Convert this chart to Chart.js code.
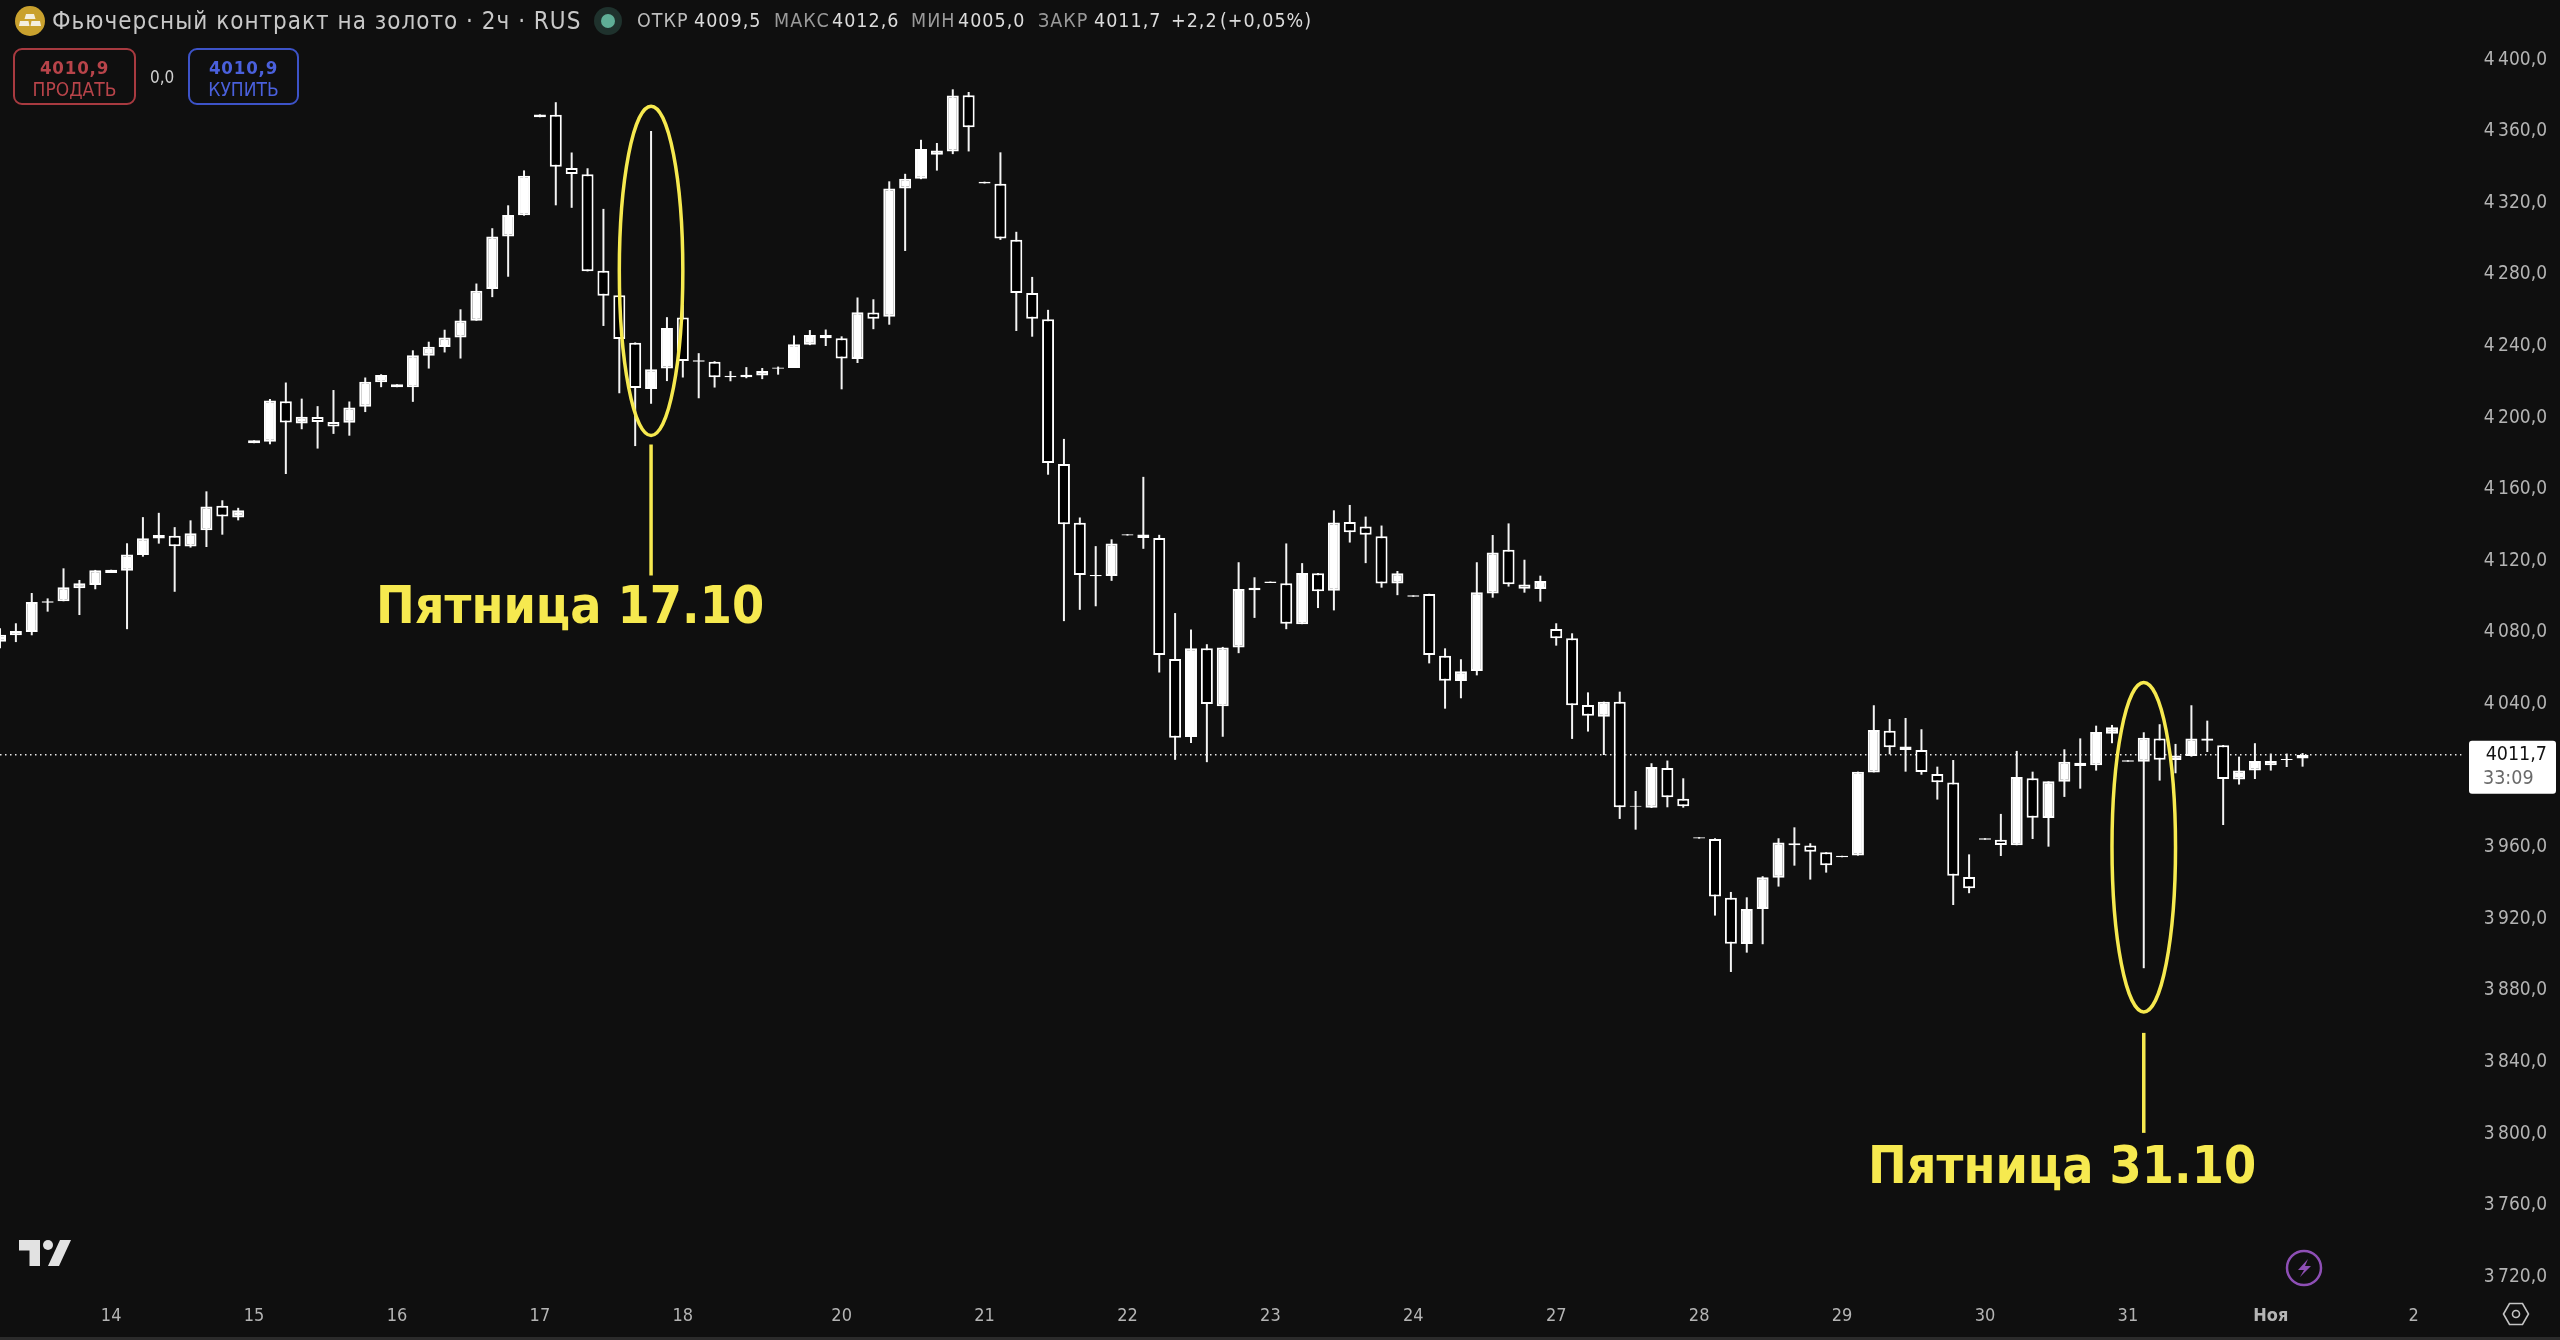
<!DOCTYPE html>
<html lang="ru">
<head>
<meta charset="utf-8">
<title>Фьючерсный контракт на золото</title>
<script src="https://cdn.jsdelivr.net/npm/chart.js@4/dist/chart.umd.min.js"></script>
<style>
  html, body { margin: 0; padding: 0; background: #0f0f0f; overflow: hidden; }
  #wrap { position: relative; width: 2560px; height: 1340px; font-family: "DejaVu Sans Condensed", "DejaVu Sans", sans-serif; }
  canvas { position: absolute; left: 0; top: 0; }
  .t { position: absolute; white-space: nowrap; line-height: 1; }
  .hd { top: 11px; font-size: 19.5px; letter-spacing: 1px; color: #bdbdbd; }
  .val { color: #dcdcdc; }
  .btn { position: absolute; top: 48px; height: 53px; border: 2px solid; border-radius: 9px; text-align: center; box-sizing: content-box; }
  .btn b { display: block; font-size: 18.5px; font-weight: 700; margin-top: 8px; letter-spacing: 0.8px; line-height: 20px; }
  .btn span { display: block; font-size: 19px; line-height: 22px; }
  svg { position: absolute; }
</style>
</head>
<body>
<div id="wrap">
  <canvas id="chart" width="2560" height="1340"></canvas>

  <svg style="left:15px;top:6px" width="30" height="30" viewBox="0 0 30 30">
    <circle cx="15" cy="15" r="15" fill="#c9a12e"/>
    <path d="M11 8h8l1.5 5h-11z M5 15h8.5l1 5H4z M16.5 15H25l1 5H15.5z" fill="#f4efe0"/>
  </svg>
  <div class="t" style="left:52px;top:9px;font-size:24px;letter-spacing:1px;color:#c8c8c8">Фьючерсный контракт на золото · 2ч · RUS</div>
  <svg style="left:594px;top:7px" width="28" height="28" viewBox="0 0 28 28">
    <circle cx="14" cy="14" r="14" fill="#1f322d"/>
    <circle cx="14" cy="14" r="7" fill="#5fae96"/>
  </svg>

  <div class="t hd" style="left:637px">ОТКР</div><div class="t hd val" style="left:694px">4009,5</div>
  <div class="t hd" style="left:774px;color:#9a9a9a">МАКС</div><div class="t hd val" style="left:832px">4012,6</div>
  <div class="t hd" style="left:911px;color:#9a9a9a">МИН</div><div class="t hd val" style="left:958px">4005,0</div>
  <div class="t hd" style="left:1038px;color:#9a9a9a">ЗАКР</div><div class="t hd val" style="left:1094px">4011,7</div>
  <div class="t hd val" style="left:1171px">+2,2</div><div class="t hd val" style="left:1220px">(+0,05%)</div>

  <div class="btn" style="left:13px;width:119px;border-color:#a83a40;color:#b8444a"><b>4010,9</b><span>ПРОДАТЬ</span></div>
  <div class="t" style="left:150px;top:69px;font-size:17px;color:#d0d0d0">0,0</div>
  <div class="btn" style="left:188px;width:107px;border-color:#3d53c8;color:#4a60dc"><b>4010,9</b><span>КУПИТЬ</span></div>

  <svg style="left:19px;top:1240px" width="52" height="26" viewBox="0 0 52 26">
    <path d="M0 0h21v26H10.500V10.500H0z" fill="#e2e2e2"/>
    <circle cx="29" cy="5" r="5" fill="#e2e2e2"/>
    <path d="M41 0h11L40 26H29z" fill="#e2e2e2"/>
  </svg>

  <svg style="left:2285px;top:1249px" width="38" height="38" viewBox="0 0 38 38">
    <circle cx="19" cy="19" r="17" fill="none" stroke="#8e4fb5" stroke-width="2.500"/>
    <path d="M23 10 L13 21h6l-4 7 11-11h-6z" fill="#8e4fb5"/>
  </svg>
  <svg style="left:2502px;top:1302px" width="28" height="24" viewBox="0 0 28 24">
    <path d="M7.500 1.500h13L26.500 12l-6 10.500h-13L1.500 12z" fill="none" stroke="#c4c4c4" stroke-width="1.600"/>
    <circle cx="14" cy="12" r="3.500" fill="none" stroke="#c4c4c4" stroke-width="1.600"/>
  </svg>

  <div style="position:absolute;left:0;top:1337px;width:2560px;height:3px;background:#2b2b2b"></div>
</div>

<script>
// gold futures, 2h candles
const opens = [4074.8, 4078.4, 4080.2, 4096.6, 4097.4, 4104.6, 4106.5, 4113.2, 4114.5, 4123.3,
  4132.4, 4134.0, 4128.0, 4137.0, 4150.8, 4144.2, 4185.7, 4186.5, 4209.2, 4196.7,
  4200.3, 4197.5, 4197.1, 4206.1, 4219.8, 4217.0, 4217.0, 4234.6, 4239.4, 4244.8,
  4254.1, 4271.9, 4301.2, 4313.0, 4367.8, 4369.2, 4339.5, 4335.9, 4282.1, 4268.3,
  4241.8, 4216.0, 4227.4, 4255.9, 4232.0, 4231.2, 4222.6, 4222.5, 4223.5, 4227.3,
  4227.7, 4240.7, 4244.4, 4244.4, 4232.7, 4258.7, 4256.4, 4328.0, 4333.5, 4346.9,
  4348.7, 4380.1, 4330.8, 4330.7, 4299.3, 4269.6, 4254.9, 4174.1, 4141.2, 4111.4,
  4111.5, 4134.1, 4132.7, 4132.7, 4065.1, 4021.5, 4071.1, 4038.7, 4071.6, 4103.5,
  4107.6, 4107.5, 4084.6, 4113.0, 4103.3, 4141.7, 4139.2, 4133.7, 4107.3, 4099.9,
  4101.5, 4067.0, 4052.9, 4058.5, 4101.8, 4126.2, 4106.7, 4104.3, 4081.9, 4076.7,
  4039.5, 4032.9, 4041.3, 3982.6, 3982.1, 4004.3, 3987.1, 3964.8, 3964.6, 3931.8,
  3905.9, 3925.5, 3943.0, 3961.1, 3960.9, 3957.2, 3954.4, 3955.3, 4001.8, 4025.1,
  4016.2, 4014.3, 4000.9, 3996.1, 3943.4, 3964.2, 3964.2, 3961.1, 3998.5, 3976.3,
  3996.6, 4007.2, 4005.8, 4023.4, 4007.8, 4007.8, 4020.7, 4008.7, 4011.0, 4019.5,
  4016.9, 3997.8, 4002.8, 4005.8, 4008.7, 4009.5];
const closes = [4078.7, 4080.8, 4097.0, 4097.4, 4105.2, 4107.4, 4114.7, 4115.0, 4123.5, 4132.6,
  4134.4, 4128.2, 4135.4, 4150.4, 4144.8, 4148.2, 4187.3, 4209.6, 4197.3, 4200.5,
  4197.5, 4195.1, 4205.7, 4220.0, 4223.8, 4218.6, 4234.8, 4239.6, 4244.8, 4254.3,
  4270.9, 4301.2, 4313.2, 4335.1, 4369.4, 4340.1, 4336.1, 4281.7, 4268.1, 4243.9,
  4216.6, 4227.0, 4250.0, 4231.6, 4231.2, 4222.5, 4223.4, 4224.0, 4226.0, 4228.0,
  4241.0, 4246.2, 4246.2, 4233.0, 4258.9, 4255.2, 4328.0, 4333.5, 4350.0, 4349.2,
  4379.9, 4362.2, 4331.8, 4300.1, 4269.6, 4255.2, 4174.6, 4140.4, 4112.0, 4112.0,
  4129.7, 4134.9, 4134.7, 4067.4, 4021.2, 4071.1, 4040.0, 4071.6, 4104.3, 4105.0,
  4108.4, 4084.8, 4113.2, 4103.0, 4141.4, 4136.0, 4134.5, 4107.3, 4113.0, 4100.7,
  4067.4, 4053.0, 4058.3, 4102.4, 4124.7, 4106.9, 4104.4, 4108.7, 4076.7, 4039.3,
  4033.5, 4041.3, 3982.3, 3983.2, 4004.8, 3987.9, 3982.9, 3965.6, 3932.4, 3906.1,
  3925.5, 3943.2, 3962.6, 3962.2, 3957.5, 3949.9, 3955.2, 4002.2, 4025.5, 4015.8,
  4014.3, 4002.0, 3996.3, 3944.1, 3937.0, 3965.0, 3961.3, 3999.2, 3976.5, 3996.8,
  4007.8, 4005.4, 4024.4, 4027.0, 4008.6, 4021.2, 4008.9, 4011.2, 4020.7, 4020.7,
  3998.1, 4002.8, 4008.2, 4008.2, 4009.3, 4011.7];
const highs = [4082.3, 4085.1, 4102.0, 4099.0, 4115.8, 4109.3, 4114.9, 4115.0, 4129.8, 4144.4,
  4146.8, 4138.8, 4142.6, 4158.8, 4153.8, 4149.6, 4187.3, 4210.4, 4219.6, 4210.6,
  4206.4, 4215.4, 4209.0, 4222.4, 4224.2, 4218.6, 4237.6, 4242.4, 4249.1, 4260.5,
  4274.9, 4305.8, 4318.6, 4338.1, 4369.4, 4376.2, 4348.1, 4339.3, 4316.6, 4268.5,
  4242.0, 4360.1, 4256.1, 4263.0, 4236.0, 4231.5, 4226.0, 4228.2, 4227.7, 4228.5,
  4245.9, 4248.9, 4249.2, 4245.4, 4267.1, 4266.1, 4332.0, 4336.2, 4355.2, 4353.4,
  4383.4, 4381.9, 4331.8, 4348.2, 4303.8, 4278.6, 4260.2, 4188.1, 4144.2, 4128.2,
  4132.0, 4134.9, 4166.9, 4134.5, 4090.8, 4081.6, 4073.4, 4071.9, 4119.2, 4110.8,
  4108.4, 4129.7, 4118.7, 4113.2, 4148.2, 4151.2, 4144.7, 4139.7, 4114.3, 4100.7,
  4101.6, 4071.1, 4065.0, 4119.2, 4134.4, 4140.9, 4120.6, 4111.7, 4085.1, 4079.5,
  4046.5, 4041.3, 4046.9, 3991.4, 4006.9, 4008.4, 3998.5, 3965.6, 3965.0, 3935.0,
  3932.0, 3943.8, 3965.0, 3971.1, 3962.2, 3957.2, 3955.2, 4002.2, 4039.3, 4031.6,
  4032.2, 4025.9, 4005.0, 4008.7, 3956.0, 3965.0, 3978.6, 4013.8, 4002.2, 3996.8,
  4014.7, 4020.8, 4027.9, 4028.3, 4008.6, 4024.2, 4028.7, 4017.7, 4039.3, 4030.7,
  4017.1, 4010.6, 4018.1, 4012.3, 4012.3, 4012.6];
const lows = [4071.1, 4074.6, 4078.4, 4091.6, 4097.4, 4089.7, 4104.1, 4113.2, 4081.8, 4122.3,
  4129.6, 4102.7, 4127.4, 4127.7, 4134.6, 4142.6, 4185.7, 4185.1, 4168.5, 4193.5,
  4182.7, 4190.9, 4189.9, 4203.1, 4217.0, 4217.0, 4208.8, 4227.4, 4236.4, 4233.0,
  4254.1, 4267.3, 4278.7, 4312.8, 4367.8, 4318.6, 4317.2, 4281.7, 4251.2, 4213.6,
  4184.1, 4207.8, 4220.4, 4222.4, 4210.8, 4216.8, 4220.3, 4222.0, 4221.5, 4224.0,
  4227.7, 4240.5, 4240.0, 4215.8, 4230.5, 4249.4, 4251.9, 4293.1, 4333.2, 4338.0,
  4347.2, 4348.7, 4330.8, 4299.3, 4248.4, 4245.2, 4168.1, 4086.3, 4092.6, 4094.6,
  4108.8, 4134.1, 4126.7, 4057.6, 4008.8, 4018.2, 4007.5, 4021.7, 4068.4, 4088.1,
  4107.6, 4081.8, 4084.6, 4093.6, 4092.3, 4130.2, 4118.7, 4105.0, 4100.8, 4099.9,
  4062.7, 4037.4, 4043.2, 4056.0, 4099.4, 4105.6, 4102.2, 4097.2, 4072.6, 4020.5,
  4024.6, 4011.5, 3975.8, 3969.8, 3981.9, 3982.3, 3982.1, 3964.8, 3921.8, 3890.3,
  3901.1, 3905.8, 3938.0, 3949.7, 3941.9, 3945.8, 3954.4, 3955.3, 4001.8, 4011.9,
  4002.2, 4000.5, 3986.6, 3927.7, 3934.3, 3964.2, 3955.1, 3961.1, 3964.6, 3960.3,
  3988.1, 3992.7, 4002.8, 4018.1, 4007.8, 3892.4, 3997.2, 4001.3, 4010.6, 4013.2,
  3972.4, 3995.0, 3998.1, 4002.8, 4004.8, 4005.0];

// 4000,0 sits under the last price tag in the picture so it is left out
const priceTicks = [4400, 4360, 4320, 4280, 4240, 4200, 4160, 4120, 4080, 4040, 3960, 3920, 3880, 3840, 3800, 3760, 3720];
const dayTicks = [7, 16, 25, 34, 43, 53, 62, 71, 80, 89, 98, 107, 116, 125, 134, 143, 152];
const dayLabels = ["14", "15", "16", "17", "18", "20", "21", "22", "23", "24", "27", "28", "29", "30", "31", "Ноя", "2"];

const lastPrice = 4011.7;
const countdown = "33:09";

// the two marked fridays: candle index, ellipse centre price and price half height
const markIndex = [41, 135];
const markPrice = [4282, 3960];
const markHalf = [92, 92];
const markText = ["Пятница 17.10", "Пятница 31.10"];

const BG = "#0f0f0f";
const YELLOW = "#f6e94f";
const FONT = '"DejaVu Sans Condensed", "DejaVu Sans", sans-serif';

const formatPrice = (v) => {
  const s = v.toFixed(1).replace(".", ",");
  return s.slice(0, 1) + "\u2009" + s.slice(1);
};

const bodies = opens.map((o, i) => ({x: i, y: [o, closes[i]]}));
const wicks = lows.map((l, i) => ({x: i, y: [l, highs[i]]}));

const noMargins = (scale) => {
  scale.paddingTop = 0;
  scale.paddingBottom = 0;
  scale.paddingLeft = 0;
  scale.paddingRight = 0;
};

const annotations = {
  id: "annotations",
  afterDatasetsDraw(chart) {
    const {ctx, scales} = chart;
    const {x, y} = scales;

    markIndex.forEach((idx, n) => {
      const cx = x.getPixelForValue(idx);
      const cy = y.getPixelForValue(markPrice[n]);
      const ry = y.getPixelForValue(markPrice[n] - markHalf[n]) - cy;
      const rx = x.getPixelForValue(idx + 2) - cx;

      ctx.save();
      ctx.strokeStyle = YELLOW;
      ctx.lineWidth = 3.5;
      ctx.beginPath();
      ctx.ellipse(cx, cy, rx, ry, 0, 0, Math.PI * 2);
      ctx.stroke();

      // leader line from ellipse to the caption
      ctx.beginPath();
      ctx.moveTo(cx, cy + ry + (n === 0 ? 9 : 21));
      ctx.lineTo(cx, cy + ry + (n === 0 ? 140 : 121));
      ctx.stroke();

      ctx.fillStyle = YELLOW;
      ctx.font = "bold 51.5px " + FONT;
      ctx.textBaseline = "alphabetic";
      ctx.textAlign = "left";
      const textX = n === 0 ? 376 : 1868;
      const textY = n === 0 ? 623 : 1183;
      ctx.fillText(markText[n], textX, textY);
      ctx.restore();
    });

    // last price tag on the axis
    const py = y.getPixelForValue(lastPrice);
    ctx.save();
    ctx.fillStyle = "#ffffff";
    ctx.beginPath();
    ctx.roundRect(2469, py - 14, 87, 53, [3, 3, 3, 3]);
    ctx.fill();
    ctx.font = "19.5px " + FONT;
    ctx.textAlign = "right";
    ctx.textBaseline = "middle";
    ctx.fillStyle = "#131313";
    ctx.fillText(lastPrice.toFixed(1).replace(".", ","), 2547, py);
    ctx.textAlign = "left";
    ctx.fillStyle = "#6a6a6a";
    ctx.fillText(countdown, 2483, py + 24);
    ctx.restore();
  },
};

new Chart(document.getElementById("chart"), {
  type: "bar",
  data: {
    datasets: [
      {
        label: "body",
        data: bodies,
        grouped: false,
        barThickness: 12,
        inflateAmount: 0,
        borderSkipped: false,
        borderWidth: 2,
        borderColor: "#ffffff",
        backgroundColor: opens.map((o, i) => (closes[i] >= o ? "#ffffff" : "#000000")),
      },
      {
        label: "wick",
        data: wicks,
        grouped: false,
        barThickness: 2,
        inflateAmount: 0,
        borderWidth: 0,
        backgroundColor: "#f4f4f4",
      },
      {
        type: "line",
        label: "last",
        data: [
          {x: 0, y: lastPrice},
          {x: 155, y: lastPrice},
        ],
        borderColor: "#e8e8e8",
        borderWidth: 1.5,
        borderDash: [1.5, 3.5],
        pointRadius: 0,
        fill: false,
      },
    ],
  },
  plugins: [annotations],
  options: {
    responsive: false,
    animation: false,
    devicePixelRatio: 1,
    events: [],
    layout: {padding: {left: 0, top: 0, right: 13, bottom: 0}},
    plugins: {
      legend: {display: false},
      tooltip: {enabled: false},
      title: {display: false},
    },
    scales: {
      x: {
        type: "linear",
        offset: false,
        bounds: "data",
        min: 0,
        max: 155.67,
        grid: {display: false, drawTicks: false},
        border: {display: false},
        afterFit(scale) {
          scale.height = 47;
          noMargins(scale);
        },
        afterBuildTicks(scale) {
          scale.ticks = dayTicks.map((v) => ({value: v}));
        },
        ticks: {
          autoSkip: false,
          maxRotation: 0,
          padding: 13,
          color: "#b4b4b4",
          font: (c) => ({
            family: FONT,
            size: 18,
            weight: c.tick && c.tick.label === "Ноя" ? "bold" : "normal",
          }),
          callback: (v) => dayLabels[dayTicks.indexOf(v)],
        },
      },
      y: {
        type: "linear",
        position: "right",
        bounds: "data",
        min: 3710.95,
        max: 4433.3,
        grid: {display: false, drawTicks: false},
        border: {display: false},
        afterFit(scale) {
          scale.width = 75;
          noMargins(scale);
        },
        afterBuildTicks(scale) {
          scale.ticks = priceTicks.map((v) => ({value: v}));
        },
        ticks: {
          autoSkip: false,
          crossAlign: "far",
          padding: 0,
          color: "#b4b4b4",
          font: {family: FONT, size: 19},
          callback: (v) => formatPrice(v),
        },
      },
    },
  },
});
</script>
</body>
</html>
